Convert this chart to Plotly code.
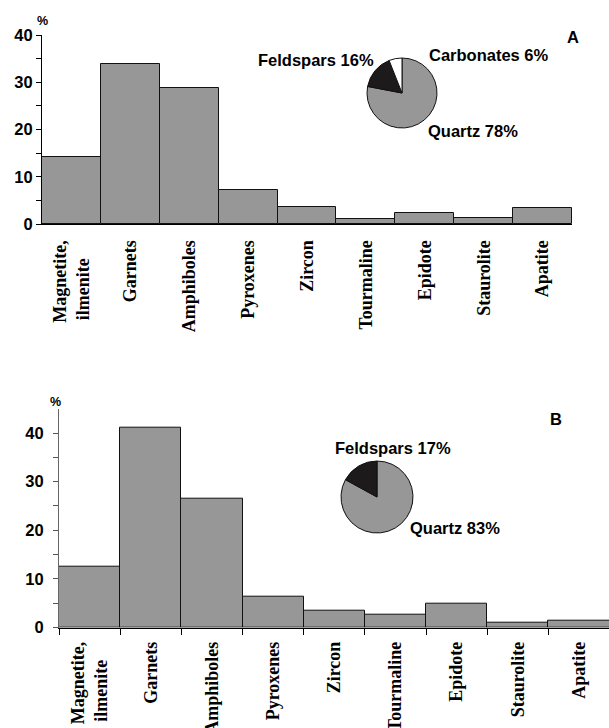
import plotly.graph_objects as go

W, H = 609, 728

minerals = ["Magnetite,<br>ilmenite" + "\u00a0" * 4, "Garnets", "Amphiboles", "Pyroxenes", "Zircon",
            "Tourmaline", "Epidote", "Staurolite", "Apatite"]
values_a = [14.2, 33.9, 28.8, 7.3, 3.5, 1.0, 2.4, 1.2, 3.3]
values_b = [12.5, 41.1, 26.4, 6.4, 3.4, 2.7, 4.8, 1.0, 1.3]

pie_a_labels = ["Quartz", "Feldspars", "Carbonates"]
pie_a_values = [78, 16, 6]
pie_b_labels = ["Quartz", "Feldspars"]
pie_b_values = [83, 17]

GRAY = "#979797"
SANS = "Liberation Sans, Arial, sans-serif"
SERIF = "Liberation Serif, Times New Roman, serif"


def px(x):
    return x / W


def py(y):
    return 1 - y / H


fig = go.Figure()

fig.add_trace(go.Bar(x=minerals, y=values_a, xaxis="x", yaxis="y",
                     marker=dict(color=GRAY, line=dict(color="#111111", width=1)),
                     showlegend=False))
fig.add_trace(go.Bar(x=minerals, y=values_b, xaxis="x2", yaxis="y2",
                     marker=dict(color=GRAY, line=dict(color="#111111", width=1)),
                     showlegend=False))

fig.add_trace(go.Pie(labels=pie_a_labels, values=pie_a_values, sort=False,
                     direction="clockwise", rotation=0, textinfo="none",
                     marker=dict(colors=[GRAY, "#1c1a1a", "#ffffff"],
                                 line=dict(color="#111111", width=1)),
                     domain=dict(x=[px(367), px(437)], y=[py(128), py(58)]),
                     showlegend=False, hoverinfo="label+percent"))
fig.add_trace(go.Pie(labels=pie_b_labels, values=pie_b_values, sort=False,
                     direction="clockwise", rotation=0, textinfo="none",
                     marker=dict(colors=[GRAY, "#1c1a1a"],
                                 line=dict(color="#111111", width=1)),
                     domain=dict(x=[px(341), px(413)], y=[py(533), py(461)]),
                     showlegend=False, hoverinfo="label+percent"))

ytick_font = dict(family=SANS, size=16.5, color="black", weight="bold")
xtick_font = dict(family=SERIF, size=18, color="black", weight="bold")

fig.update_layout(
    template="none",
    width=W, height=H,
    margin=dict(l=0, r=0, t=0, b=0, pad=0),
    paper_bgcolor="white", plot_bgcolor="white",
    bargap=0,
    xaxis=dict(domain=[px(42), px(572)], range=[-0.5, 8.5], type="category",
               tickangle=-90, tickfont=xtick_font, ticks="", showline=True,
               linecolor="black", linewidth=1, showgrid=False, zeroline=False,
               ticklabelstandoff=8, anchor="y", automargin=False),
    yaxis=dict(domain=[py(224), py(35)], range=[0, 40],
               tickvals=[0, 5, 10, 15, 20, 25, 30, 35, 40],
               ticktext=["0", "", "10", "", "20", "", "30", "", "40"],
               ticks="outside", ticklen=5, tickcolor="black",
               tickfont=ytick_font, showline=True, linecolor="black",
               linewidth=1, showgrid=False, zeroline=False, anchor="x",
               automargin=False),
    xaxis2=dict(domain=[px(59), 1.0], range=[-0.5, 8.49], type="category",
                tickangle=-90, tickson="boundaries",
                tickfont=xtick_font, ticks="outside", ticklen=6,
                tickcolor="black", showline=True, linecolor="black",
                linewidth=1, showgrid=False, zeroline=False,
                ticklabelstandoff=6, anchor="y2", automargin=False),
    yaxis2=dict(domain=[py(627.5), py(408.7)], range=[0, 45],
                tickvals=[0, 5, 10, 15, 20, 25, 30, 35, 40],
                ticktext=["0", "", "10", "", "20", "", "30", "", "40"],
                ticks="outside", ticklen=5, tickcolor="#555555",
                tickfont=ytick_font, showline=True, linecolor="#666666",
                linewidth=1, showgrid=False, zeroline=False,
                ticklabelstandoff=6, anchor="x2", automargin=False),
)

lab_font = dict(family=SANS, size=16.5, color="black", weight="bold")
pct_font = dict(family=SANS, size=12.5, color="black", weight="bold")


def ann(text, x, y, xanchor="center", font=lab_font):
    fig.add_annotation(text=text, x=px(x), y=py(y), xref="paper", yref="paper",
                       xanchor=xanchor, yanchor="middle", showarrow=False,
                       font=font)


ann("%", 42.5, 20.5, font=pct_font)
ann("A", 573, 37)
ann("Feldspars 16%", 376, 60, xanchor="right")
ann("Carbonates 6%", 427, 55, xanchor="left")
ann("Quartz 78%", 426, 131, xanchor="left")

ann("%", 55, 402, font=pct_font)
ann("B", 556, 419)
ann("Feldspars 17%", 393, 448)
ann("Quartz 83%", 408, 528, xanchor="left")

fig.write_html("out.html", config={"displayModeBar": False},
               post_script="document.body.style.margin='0';document.body.style.overflow='hidden';")
